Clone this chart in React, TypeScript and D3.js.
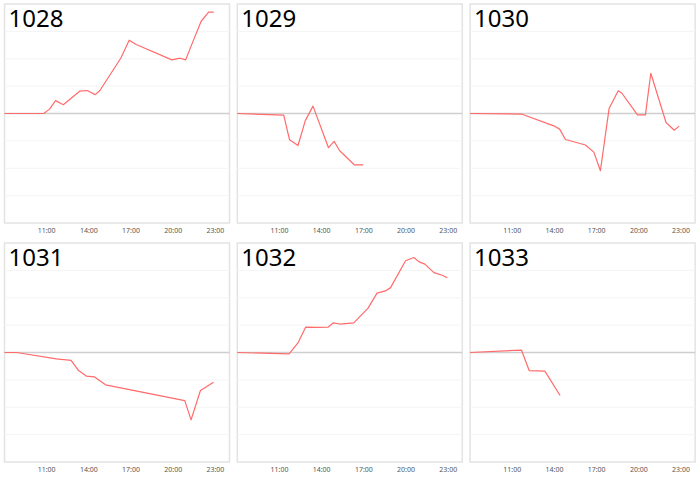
import React from 'react';
import * as d3 from 'd3';

const W = 700;
const H = 479;

const panelNames = ['1028', '1029', '1030', '1031', '1032', '1033'];

const times1028 = ['08:00', '10:48', '11:12', '11:38', '12:11', '13:22', '13:53', '14:27', '14:47', '16:16', '16:52', '17:22', '19:54', '20:30', '20:53', '21:22', '21:59', '22:31', '22:53'];
const values1028 = [0, 0, 0.16, 0.47, 0.32, 0.82, 0.84, 0.69, 0.84, 2.02, 2.68, 2.52, 1.96, 2.02, 1.96, 2.59, 3.37, 3.7, 3.7];

const times1029 = ['08:00', '11:18', '11:43', '12:19', '12:50', '13:23', '14:29', '14:53', '15:17', '16:20', '16:57'];
const values1029 = [0, -0.06, -0.96, -1.17, -0.26, 0.27, -1.25, -1.02, -1.36, -1.88, -1.88];

const times1030 = ['08:00', '11:39', '13:57', '14:22', '14:47', '16:12', '16:48', '17:16', '17:53', '18:32', '18:48', '19:54', '20:28', '20:51', '21:56', '22:31', '22:52'];
const values1030 = [0, -0.02, -0.45, -0.57, -0.95, -1.15, -1.41, -2.09, 0.18, 0.83, 0.74, -0.05, -0.05, 1.47, -0.33, -0.61, -0.46];

const times1031 = ['08:00', '08:52', '11:41', '12:44', '13:16', '13:49', '14:23', '15:11', '20:49', '21:16', '21:56', '22:52'];
const values1031 = [0, 0, -0.23, -0.29, -0.66, -0.86, -0.89, -1.18, -1.76, -2.46, -1.39, -1.09];

const times1032 = ['08:00', '11:41', '12:18', '12:52', '13:35', '14:28', '14:49', '15:17', '16:17', '17:18', '17:56', '18:32', '18:54', '19:58', '20:33', '20:56', '21:20', '21:59', '22:34', '22:56'];
const values1032 = [0, -0.05, 0.34, 0.93, 0.92, 0.93, 1.08, 1.04, 1.08, 1.62, 2.17, 2.25, 2.37, 3.35, 3.47, 3.31, 3.23, 2.92, 2.82, 2.73];

const times1033 = ['08:00', '11:39', '12:12', '13:19', '14:24'];
const values1033 = [0, 0.09, -0.66, -0.68, -1.57];

const xTicks = [11, 14, 17, 20, 23];
const gridValues = [-3, -2, -1, 1, 2, 3];

const allTimes = [times1028, times1029, times1030, times1031, times1032, times1033];
const allValues = [values1028, values1029, values1030, values1031, values1032, values1033];

const toHours = (s: string) => {
  const [h, m] = s.split(':').map(Number);
  return h + m / 60;
};

const panelW = 225;
const panelH = 219;
const colStep = 232.8;
const rowStep = 239;
const left0 = 4.5;
const top0 = 4;

function Panel({ name, times, values, col, row }: {
  name: string; times: string[]; values: number[]; col: number; row: number;
}) {
  const x0 = left0 + col * colStep;
  const y0 = top0 + row * rowStep;
  const x = d3.scaleLinear().domain([8, 24]).range([x0, x0 + panelW]);
  const y = d3.scaleLinear().domain([-4, 4]).range([y0 + panelH, y0]);
  const pts = times.map((t, i) => [toHours(t), values[i]] as [number, number]);
  const line = d3.line<[number, number]>()
    .x((d) => x(d[0]))
    .y((d) => y(d[1]));

  return (
    <g>
      <rect x={x0} y={y0} width={panelW} height={panelH} fill="#fff" stroke="#e3e3e3" strokeWidth={1.5} />
      {gridValues.map((v) => (
        <line key={v} x1={x0} x2={x0 + panelW} y1={y(v)} y2={y(v)} stroke="#f4f4f4" strokeWidth={1} />
      ))}
      <line x1={x0} x2={x0 + panelW} y1={y(0)} y2={y(0)} stroke="#cfcfcf" strokeWidth={1.5} />
      <path d={line(pts) ?? ''} fill="none" stroke="#ff6b6b" strokeWidth={1.2} strokeLinejoin="round" />
      <text x={x0 + 4} y={y0 + 23} fontSize={24} fill="#000" fontFamily="'Noto Sans', sans-serif">{name}</text>
      {xTicks.map((t) => (
        <text key={t} x={x(t)} y={y0 + panelH + 10} fontSize={7} fill="#555" textAnchor="middle"
          fontFamily="'Noto Sans', sans-serif">
          {`${t}:00`}
        </text>
      ))}
    </g>
  );
}

export default function App() {
  return (
    <svg width={W} height={H} style={{ position: 'absolute', left: 0, top: 0, background: '#fff' }}>
      <rect width={W} height={H} fill="#fff" />
      {panelNames.map((name, i) => (
        <Panel key={name} name={name} times={allTimes[i]} values={allValues[i]} col={i % 3} row={Math.floor(i / 3)} />
      ))}
    </svg>
  );
}
